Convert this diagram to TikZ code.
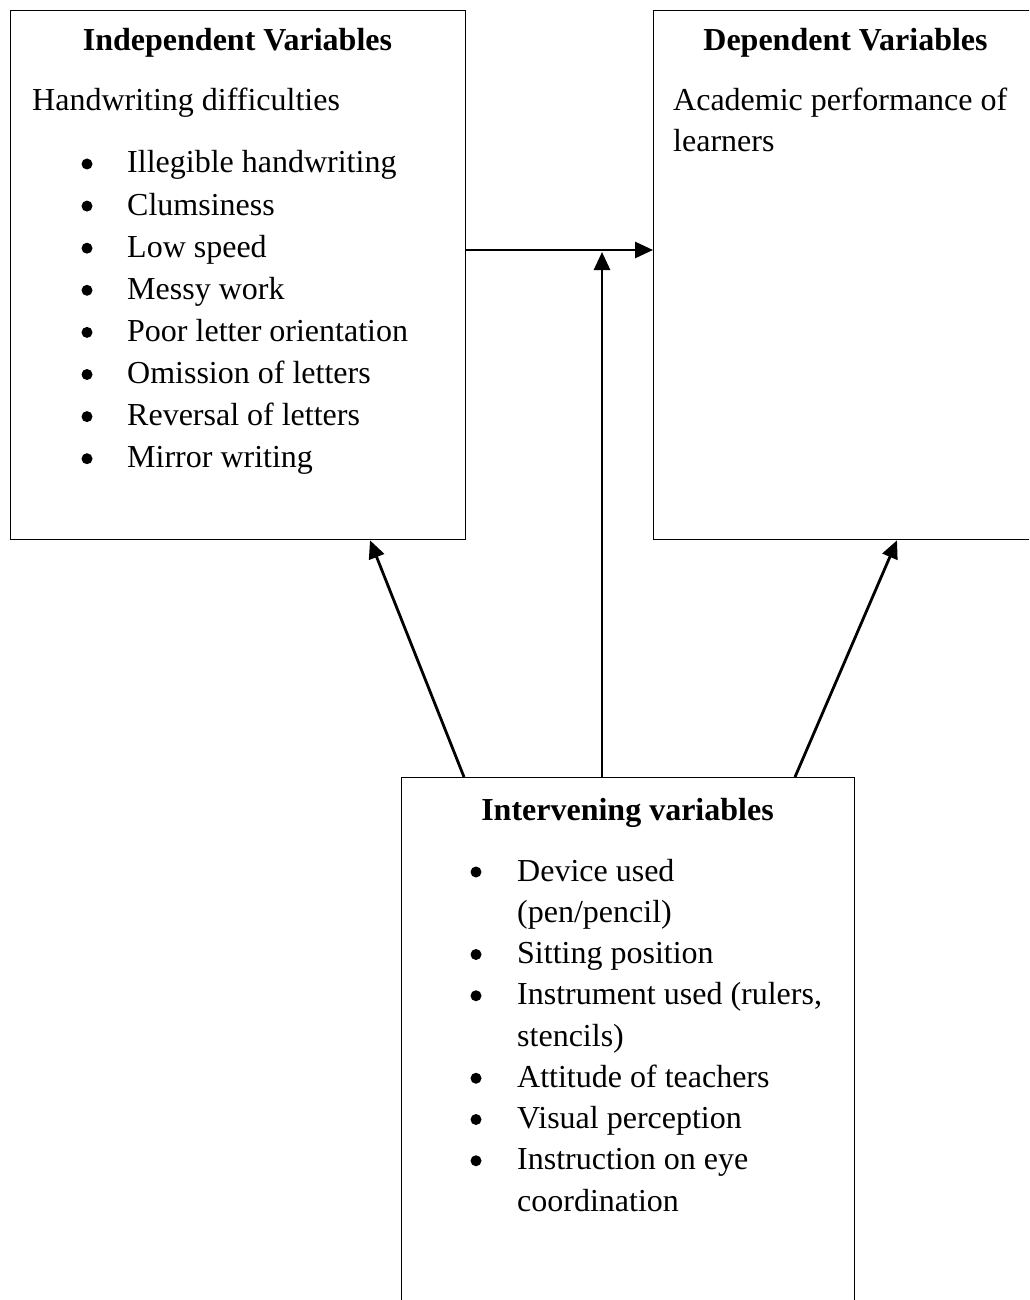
\documentclass[tikz,border=0pt]{standalone}
\usepackage{fontspec}
\setmainfont{Liberation Serif}
\usetikzlibrary{arrows.meta}
\begin{document}
\begin{tikzpicture}[x=1pt,y=-1pt,
  boxnode/.style={draw, line width=1.3pt, rectangle, inner sep=0pt, anchor=north west},
  txt/.style={anchor=base west, inner sep=0pt, font=\fontsize{32}{42}\selectfont},
  ttl/.style={anchor=base, inner sep=0pt, font=\fontsize{32}{42}\selectfont\bfseries},
  bul/.style={circle, fill=black, inner sep=0pt, minimum size=11pt},
  conn/.style={line width=2.8pt, -{Triangle[length=18pt,width=16pt]}}]
\clip (0,0) rectangle (1029,1300);
\fill[white] (0,0) rectangle (1029,1300);
% boxes
\node[boxnode, minimum width=455pt, minimum height=529pt] (indep) at (10,10) {};
\node[boxnode, minimum width=385pt, minimum height=529pt] (dep) at (653,10) {};
\node[boxnode, minimum width=453pt, minimum height=560pt] (interv) at (401,777) {};
% independent texts
\node[ttl] (indt) at (237.5,51) {Independent Variables};
\node[txt] (indsub) at (32,111) {Handwriting difficulties};
\foreach \t [count=\i from 0] in {Illegible handwriting, Clumsiness, Low speed, Messy work, Poor letter orientation, Omission of letters, Reversal of letters, Mirror writing}{
  \node[bul] (indb\i) at (87,164+42.1*\i) {};
  \node[txt] (indi\i) at (127,173+42.1*\i) {\t};
}
% dependent texts
\node[ttl] (dept) at (845.5,51) {Dependent Variables};
\node[txt] (dep1) at (673,111) {Academic performance of};
\node[txt] (dep2) at (673,152) {learners};
% intervening texts
\node[ttl] (intt) at (627.5,820) {Intervening variables};
\foreach \t [count=\i from 0] in {Device used, {(pen/pencil)}, Sitting position, {Instrument used (rulers,}, stencils), Attitude of teachers, Visual perception, Instruction on eye, coordination}{
  \node[txt] (inti\i) at (517,881+41.25*\i) {\t};
}
\foreach \r [count=\i from 0] in {0,2,3,5,6,7}{
  \node[bul] (intb\i) at (476,872+41.25*\r) {};
}
% connectors
\coordinate (hstart) at (indep.east |- 0,250);
\coordinate (vtop) at (602,252);
\coordinate (vbot) at (interv.north -| vtop);
\coordinate (lbot) at (interv.north -| 464,0);
\coordinate (ltop) at (indep.south -| 370,0);
\coordinate (rbot) at (interv.north -| 795,0);
\coordinate (rtop) at (dep.south -| 897,0);
\draw[conn] (hstart) -- (dep.west |- hstart);
\draw[conn] (vbot) -- (vtop);
\draw[conn] (lbot) -- (ltop);
\draw[conn] (rbot) -- (rtop);
\end{tikzpicture}
\end{document}
